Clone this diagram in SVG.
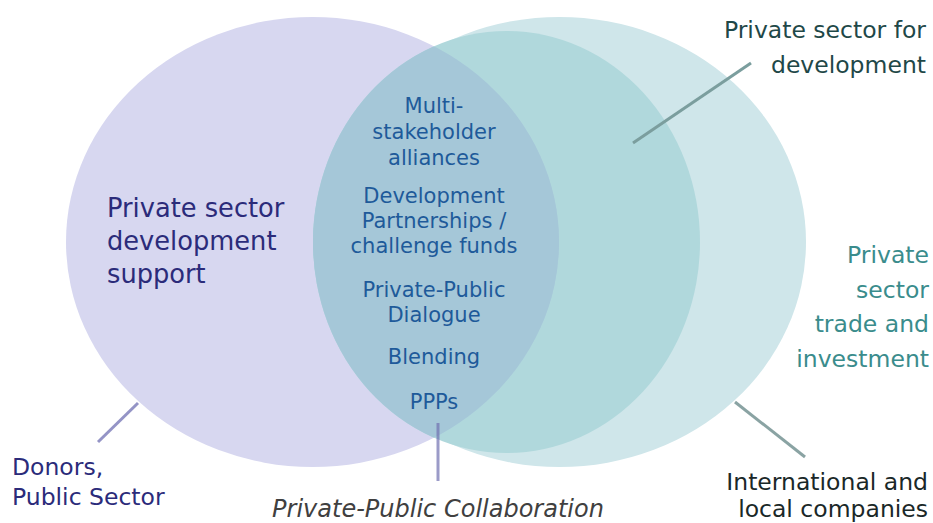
<svg xmlns="http://www.w3.org/2000/svg" width="933" height="523" viewBox="0 0 933 523">
<style>
text{font-family:"DejaVu Sans","Verdana","Liberation Sans",sans-serif;}
.lbl-left{font-size:25.7px;fill:#2b2b7a;}
.lbl-center{font-size:21px;fill:#1e5a9a;text-anchor:middle;}
.lbl-psd{font-size:23.5px;fill:#1f4848;text-anchor:end;}
.lbl-trade{font-size:23.5px;fill:#3a8c8c;text-anchor:end;}
.lbl-donor{font-size:23.5px;fill:#2b2b7a;}
.lbl-intl{font-size:23.5px;fill:#1a2828;text-anchor:end;}
.lbl-ppc{font-size:24px;fill:#404040;font-style:italic;text-anchor:middle;}
.conn{stroke-width:3;fill:none;}
</style>
<defs>
<clipPath id="clipLeft"><ellipse cx="312.5" cy="242" rx="246.5" ry="225"/></clipPath>
</defs>
<rect width="933" height="523" fill="#ffffff"/>
<g id="donors-circle">
<ellipse cx="312.5" cy="242" rx="246.5" ry="225" fill="#d7d7f0"/>
</g>
<g id="companies-circle">
<ellipse cx="559.5" cy="242" rx="246.5" ry="225" fill="#cfe6ea"/>
</g>
<g id="psd-circle">
<ellipse cx="506.5" cy="242" rx="193.5" ry="211" fill="#b0d8dc"/>
</g>
<g id="collaboration-lens" clip-path="url(#clipLeft)">
<ellipse cx="559.5" cy="242" rx="246.5" ry="225" fill="#adcddc"/>
<ellipse cx="506.5" cy="242" rx="193.5" ry="211" fill="#a5c7d8"/>
</g>
<g id="connectors">
<line class="conn" x1="138" y1="403" x2="98" y2="442" stroke="#9494c6"/>
<line class="conn" x1="438" y1="423" x2="438" y2="481" stroke="#7070b0" stroke-opacity="0.7"/>
<line class="conn" x1="633" y1="143" x2="751" y2="63" stroke="#7b9e9e"/>
<line class="conn" x1="735" y1="402" x2="805" y2="457" stroke="#8aa3a3"/>
</g>
<g id="label-psd-support">
<text class="lbl-left" x="107" y="217">Private sector</text>
<text class="lbl-left" x="107" y="250">development</text>
<text class="lbl-left" x="107" y="283">support</text>
</g>
<g id="label-center">
<text class="lbl-center" x="434" y="113">Multi-</text>
<text class="lbl-center" x="434" y="139">stakeholder</text>
<text class="lbl-center" x="434" y="165">alliances</text>
<text class="lbl-center" x="434" y="203">Development</text>
<text class="lbl-center" x="434" y="228">Partnerships /</text>
<text class="lbl-center" x="434" y="253">challenge funds</text>
<text class="lbl-center" x="434" y="297">Private-Public</text>
<text class="lbl-center" x="434" y="322">Dialogue</text>
<text class="lbl-center" x="434" y="364">Blending</text>
<text class="lbl-center" x="434" y="409">PPPs</text>
</g>
<g id="label-psd">
<text class="lbl-psd" x="926" y="38">Private sector for</text>
<text class="lbl-psd" x="926" y="73">development</text>
</g>
<g id="label-trade">
<text class="lbl-trade" x="929" y="263">Private</text>
<text class="lbl-trade" x="929" y="298">sector</text>
<text class="lbl-trade" x="929" y="332">trade and</text>
<text class="lbl-trade" x="929" y="367">investment</text>
</g>
<g id="label-donors">
<text class="lbl-donor" x="12" y="475">Donors,</text>
<text class="lbl-donor" x="12" y="505">Public Sector</text>
</g>
<g id="label-intl">
<text class="lbl-intl" x="928" y="490">International and</text>
<text class="lbl-intl" x="928" y="517">local companies</text>
</g>
<g id="label-ppc">
<text class="lbl-ppc" x="438" y="517">Private-Public Collaboration</text>
</g>
</svg>
